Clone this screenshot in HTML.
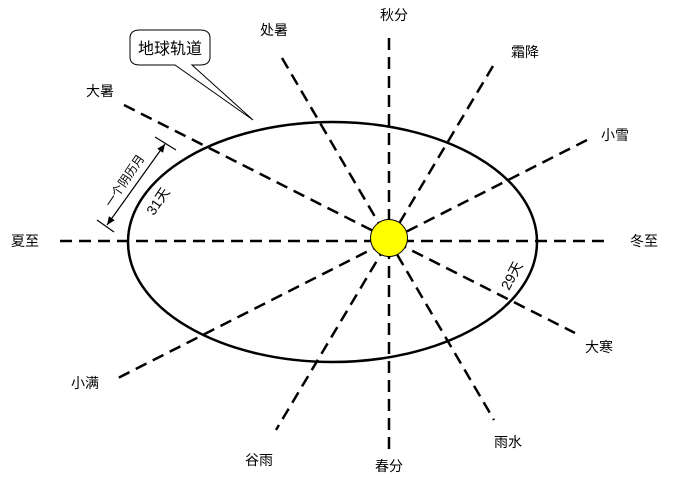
<!DOCTYPE html>
<html><head><meta charset="utf-8"><style>
body{margin:0;background:#fff}
svg{display:block}
text{font-family:"Liberation Sans","Noto Sans CJK SC",sans-serif;fill:#000}
</style></head><body>
<svg width="673" height="482" viewBox="0 0 673 482">
<defs><marker id="a" markerWidth="8" markerHeight="8" refX="7" refY="4" orient="auto-start-reverse"><path d="M0,1 L7,4 L0,7 z" fill="#000"/></marker></defs>
<g stroke="#000" stroke-width="2.5" stroke-dasharray="12,7" fill="none">
<line x1="60" y1="241" x2="607" y2="241"/>
<line x1="389" y1="38" x2="389" y2="456"/>
<line x1="124" y1="105" x2="575" y2="333"/>
<line x1="282" y1="58" x2="494" y2="420"/>
<line x1="493" y1="66" x2="276" y2="430"/>
<line x1="587" y1="140" x2="118" y2="378"/>
</g>
<ellipse cx="332.5" cy="242" rx="204.5" ry="120" fill="none" stroke="#000" stroke-width="2.5"/>
<circle cx="389" cy="238" r="18.5" fill="#ffff00" stroke="#000" stroke-width="1"/>
<path d="M140,30 H200 Q210,30 210,38 V57 Q210,65 200,65 H192 L253,120 L175,65 H140 Q130,65 130,57 V38 Q130,30 140,30 Z" fill="#fff" stroke="#000" stroke-width="1"/>
<text x="170" y="54" font-size="16" text-anchor="middle">地球轨道</text>
<g stroke="#000" stroke-width="1.2">
<line x1="155" y1="137" x2="176" y2="150"/>
<line x1="97" y1="220" x2="114" y2="232"/>
<line x1="165" y1="144" x2="107" y2="225" marker-end="url(#a)" marker-start="url(#a)"/>
</g>
<text transform="translate(128,183) rotate(-56)" font-size="12" text-anchor="middle">一个阴历月</text>
<text transform="translate(162,204) rotate(-56)" font-size="14" text-anchor="middle">31天</text>
<text transform="translate(516,278) rotate(-62)" font-size="14" text-anchor="middle">29天</text>
<g font-size="14" text-anchor="middle">
<text x="394" y="20">秋分</text>
<text x="274" y="35">处暑</text>
<text x="525" y="57">霜降</text>
<text x="100" y="96">大暑</text>
<text x="615" y="140">小雪</text>
<text x="25" y="246">夏至</text>
<text x="644" y="246">冬至</text>
<text x="599" y="352">大寒</text>
<text x="85" y="388">小满</text>
<text x="508" y="447">雨水</text>
<text x="259" y="465">谷雨</text>
<text x="389" y="471">春分</text>
</g>
</svg>
</body></html>
